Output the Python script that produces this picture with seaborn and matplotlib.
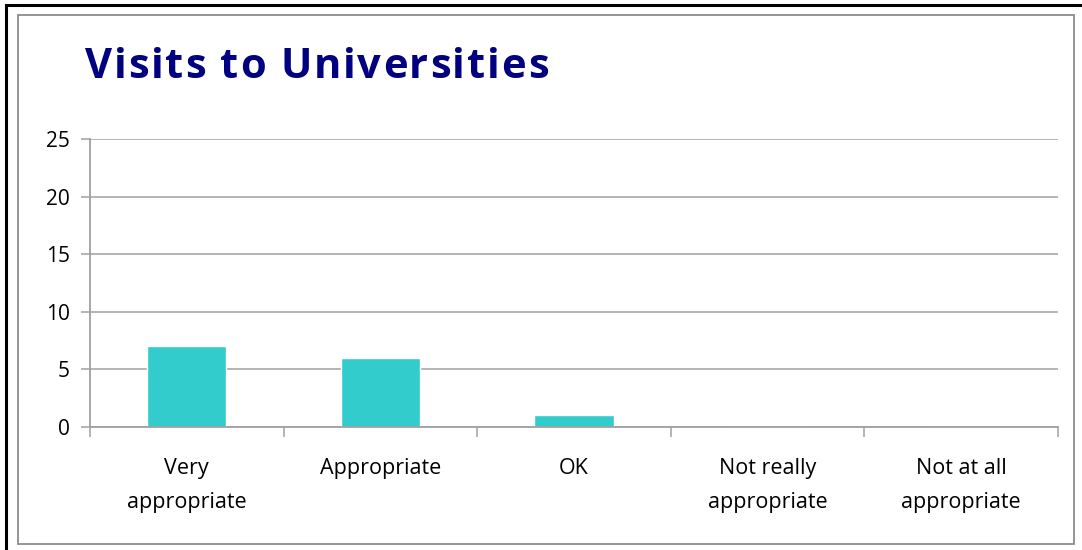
import matplotlib
matplotlib.use("Agg")
import matplotlib.pyplot as plt
from matplotlib.patches import Rectangle
from matplotlib.ticker import FixedLocator
from matplotlib.font_manager import FontProperties, findfont, get_font
import seaborn as sns
import pandas as pd

categories = ["Very\nappropriate", "Appropriate", "OK", "Not really\nappropriate", "Not at all\nappropriate"]
counts = [7, 6, 1, 0, 0]
y_ticks = [0, 5, 10, 15, 20, 25]
title = "Visits to Universities"

sns.set_theme(style="white")
plt.rcParams["font.family"] = ["Open Sans", "DejaVu Sans"]

W, H = 1082, 550
DPI = 100
fig = plt.figure(figsize=(W / DPI, H / DPI), dpi=DPI)
fig.patch.set_facecolor("white")

# page frame (outer dark edge and inner grey chart border)
fig.patches.append(Rectangle((6 / W, -0.1), 1.2, (H - 5) / H + 0.1, transform=fig.transFigure,
                             fill=False, edgecolor="black", linewidth=2.2, zorder=0))
fig.patches.append(Rectangle((18 / W, (H - 544) / H), (1074 - 18) / W, (544 - 15) / H,
                             transform=fig.transFigure, fill=False, edgecolor="#8c8c8c",
                             linewidth=1.3, zorder=0))

ax = fig.add_axes([90 / W, 1 - 427 / H, (1058 - 90) / W, (427 - 139) / H])

df = pd.DataFrame({"category": categories, "count": counts})
sns.barplot(data=df, x="category", y="count", color="#33CCCC", width=0.41,
            saturation=1, ax=ax, zorder=3)

ax.set_ylim(0, 25)
ax.set_xlim(-0.5, len(categories) - 0.5)
ax.set_yticks(y_ticks)
ax.yaxis.grid(True, color="#a8a8a8", linewidth=1.2, zorder=0)
ax.set_axisbelow(True)

for side in ["top", "right"]:
    ax.spines[side].set_visible(False)
for side in ["left", "bottom"]:
    ax.spines[side].set_color("#a0a0a0")
    ax.spines[side].set_linewidth(1.3)
    ax.spines[side].set_zorder(4)

ax.set_xlabel("")
ax.set_ylabel("")

ax.tick_params(axis="y", which="major", direction="out", length=6.5, width=1.1,
               color="#a0a0a0", pad=8, labelsize=15, labelcolor="black", left=True)
ax.tick_params(axis="x", which="major", length=0, pad=22, labelsize=15.5, labelcolor="black")
ax.xaxis.set_minor_locator(FixedLocator([i - 0.5 for i in range(len(categories) + 1)]))
ax.tick_params(axis="x", which="minor", direction="out", length=7, width=1.1,
               color="#a0a0a0", bottom=True)
for lbl in ax.get_xticklabels():
    lbl.set_linespacing(1.85)


def tracked_text(x_px, y_px, text, size, tracking_px, **kw):
    """Draw text letter by letter with extra spacing between glyphs."""
    prop = FontProperties(family=plt.rcParams["font.family"], size=size,
                          weight=kw.get("fontweight", "normal"))
    font = get_font(findfont(prop))
    font.set_size(size, DPI)
    x = x_px
    for ch in text:
        if ch != " ":
            fig.text(x / W, 1 - y_px / H, ch, fontproperties=prop, ha="left",
                     va="baseline", color=kw.get("color", "black"))
        adv = font.load_char(ord(ch)).linearHoriAdvance / 65536
        x += adv + tracking_px


tracked_text(85, 78, title, 30, 1.8, fontweight="bold", color="#000080")

fig.savefig("out.png", dpi=DPI, facecolor="white")
